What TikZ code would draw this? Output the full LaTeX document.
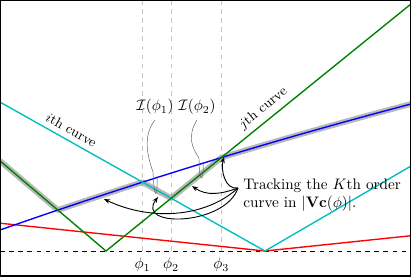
\documentclass[tikz,border=0pt]{standalone}
\usepackage{amsmath,amssymb}
\usetikzlibrary{arrows.meta,calc}
\definecolor{icyan}{RGB}{0,190,190}
\definecolor{jgreen}{RGB}{0,128,0}

\begin{document}
\begin{tikzpicture}[
  x=0.231mm, y=0.231mm,
  >={Stealth[length=4pt,width=3pt]},
  curve/.style={line width=0.9pt},
  hl/.style={line width=3.8pt,gray,opacity=0.55,line join=round},
  guide/.style={gray!45,dashed,line width=0.6pt},
  pin/.style={gray!70!black,line width=0.3pt},
  track/.style={->,line width=0.6pt},
  lbl/.style={font=\small,sloped,above}]
\useasboundingbox (0,0) rectangle (411,276);
\def\bluey#1{46+0.3512*#1-1.087*(0.01*#1)*(0.01*#1)}
% guides
\draw[dashed,line width=0.5pt] (0,25) -- (411,25);
\foreach \p/\n in {142.5/1,171.1/2,221.3/3}{
  \draw[guide] (\p,25) -- (\p,276);
  \node (phi\n) at (\p,11) {$\phi_\n$};
}
% tracked curve
\draw[hl] (0,115.1) -- (57.8,65.95)
  -- plot[domain=57.8:142.5,samples=12] (\x,{\bluey{\x}})
  -- (171.1,77.75) -- (221.3,118.39)
  -- plot[domain=221.3:411,samples=20] (\x,{\bluey{\x}});
% curves
\draw[curve,red] (0,52.8) -- (265,25) -- (411,40.3);
\draw[curve,blue] plot[domain=0:411,samples=40] (\x,{\bluey{\x}});
\draw[curve,icyan] (0,173.93) -- node[lbl,pos=0.25,text=black] (ilab) {$i$th curve} (265,25) -- (411,110);
\draw[curve,jgreen] (0,115.1) -- (106,25) -- node[lbl,pos=0.54,text=black] (jlab) {$j$th curve} (411,272.05);
% intervals
\node (I1) at (155,169) {$\mathcal{I}(\phi_1)$};
\node (I2) at (197,169) {$\mathcal{I}(\phi_2)$};
\draw[pin] (I1.south) .. controls (142,140) and (148,118) .. (153,104)
  .. controls (154,76) and (158,76) .. (157,100);
\draw[pin] (I2.south) .. controls (187,140) and (192,128) .. (199,118)
  .. controls (199,92) and (204,92) .. (203,114);
% tracking note
\node[right,align=left,inner sep=2pt] (note) at (240,81) {Tracking the $K$th order\\curve in $|\mathbf{V}\mathbf{c}(\phi)|$.};
\coordinate (src) at (238,88);
\coordinate (kA) at (224,119);
\coordinate (kB) at (192,90);
\coordinate (kC) at (158,79);
\coordinate (kD) at (104,77);
\draw[track] (src) to[out=190,in=-105] (kA);
\draw[track] (src) to[out=200,in=-35] (kB);
\draw[track] (src) .. controls (225,50) and (135,48) .. (kC);
\draw[track] (src) .. controls (205,58) and (150,55) .. (kD);
\draw[line width=1pt] (0,0) rectangle (411,276);
\end{tikzpicture}
\end{document}
